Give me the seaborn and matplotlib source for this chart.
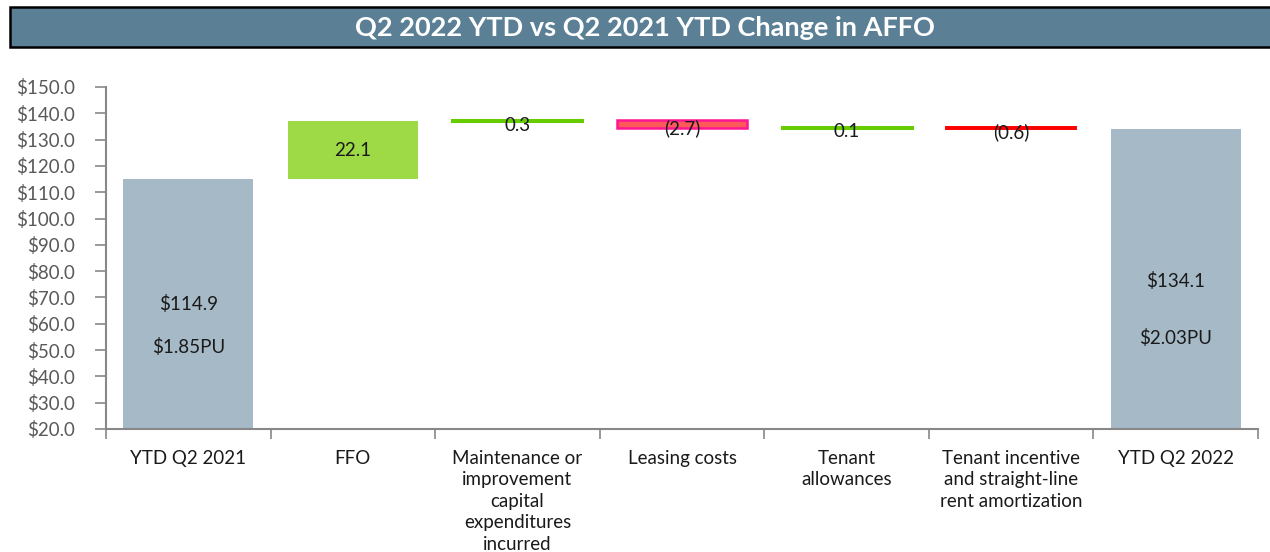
import matplotlib.pyplot as plt
import seaborn as sns
import numpy as np
from matplotlib.patches import Rectangle
from matplotlib.ticker import FixedLocator, FuncFormatter

# chart data
categories = ["YTD Q2 2021", "FFO",
              "Maintenance or\nimprovement\ncapital\nexpenditures\nincurred",
              "Leasing costs", "Tenant\nallowances",
              "Tenant incentive\nand straight-line\nrent amortization",
              "YTD Q2 2022"]
start_total = 114.9
changes = [22.1, 0.3, -2.7, 0.1, -0.6]
end_total = 134.1
change_labels = ["22.1", "0.3", "(2.7)", "0.1", "(0.6)"]
total_labels = ["$114.9", "$134.1"]
per_unit_labels = ["$1.85PU", "$2.03PU"]

sns.set_theme(style="white")
plt.rcParams['font.family'] = ['Lato', 'DejaVu Sans']

fig = plt.figure(figsize=(12.7, 5.52), dpi=100)
ax = fig.add_axes([106 / 1270, 1 - 429 / 552, (1258 - 106) / 1270, (429 - 87) / 552])

total_color = "#A6B9C6"
bar_w = 0.79
fs = 13.5

# waterfall: bottoms / heights
running = start_total
bottoms, heights = [0], [start_total]
for c in changes:
    bottoms.append(min(running, running + c))
    heights.append(abs(c))
    running += c
bottoms.append(0)
heights.append(end_total)

fills = [total_color, "#9EDA45", "#66CC00", "#FF5A5A", "#66CC00", "#FF0000", total_color]
edges = [total_color, "#9EDA45", "#66CC00", "#FF1493", "#66CC00", "#FF0000", total_color]
lws = [0, 0, 2.2, 1.8, 2.2, 1.4, 0]

for i, cat in enumerate(categories):
    sns.barplot(x=[cat], y=[heights[i]], bottom=bottoms[i], order=categories,
                color=fills[i], edgecolor=edges[i], linewidth=lws[i],
                width=bar_w, saturation=1, ax=ax)

# labels on change bars
for j, lab in enumerate(change_labels):
    i = j + 1
    mid = bottoms[i] + heights[i] / 2
    if heights[i] < 3:
        mid -= 1.6
    ax.text(i, mid, lab, ha="center", va="center", fontsize=fs, color="#1a1a1a")

# labels on total bars
ax.text(0, 67.5, total_labels[0], ha="center", va="center", fontsize=fs, color="#1a1a1a")
ax.text(0, 51.2, per_unit_labels[0], ha="center", va="center", fontsize=fs, color="#1a1a1a")
ax.text(6, 76.3, total_labels[1], ha="center", va="center", fontsize=fs, color="#1a1a1a")
ax.text(6, 54.6, per_unit_labels[1], ha="center", va="center", fontsize=fs, color="#1a1a1a")

ax.set_xlim(-0.5, 6.5)
ax.set_ylim(20, 150)
ax.set_yticks(np.arange(20, 151, 10))
ax.yaxis.set_major_formatter(FuncFormatter(lambda v, p: f"${v:.1f}"))
ax.tick_params(axis="y", direction="out", length=8, width=1.2, color="#888888",
               labelsize=fs, labelcolor="#595959", pad=14, left=True)

# ticks between categories, labels at category centers
ax.xaxis.set_major_locator(FixedLocator(np.arange(-0.5, 6.6, 1)))
ax.xaxis.set_minor_locator(FixedLocator(np.arange(0, 7)))
ax.set_xticklabels([""] * 8)
ax.set_xticklabels(categories, minor=True)
ax.tick_params(axis="x", which="major", direction="out", length=7, width=1.2,
               color="#888888", bottom=True)
ax.tick_params(axis="x", which="minor", length=0, pad=15, labelsize=fs,
               labelcolor="#1a1a1a")
for t in ax.get_xticklabels(minor=True):
    t.set_linespacing(1.32)
ax.set_xlabel("")
ax.set_ylabel("")

sns.despine(ax=ax)
for s in ["left", "bottom"]:
    ax.spines[s].set_color("#888888")
    ax.spines[s].set_linewidth(1.5)

# title banner
fig.patches.append(Rectangle((10 / 1270, 1 - 47 / 552), 1.0, 40 / 552,
                             transform=fig.transFigure, facecolor="#5B7F95",
                             edgecolor="black", linewidth=1.8, zorder=0))
fig.text(645 / 1270, 1 - 28 / 552, "Q2 2022 YTD vs Q2 2021 YTD Change in AFFO",
         ha="center", va="center", fontsize=19.5, fontweight="bold", color="white")

fig.savefig("out.png", dpi=100)
